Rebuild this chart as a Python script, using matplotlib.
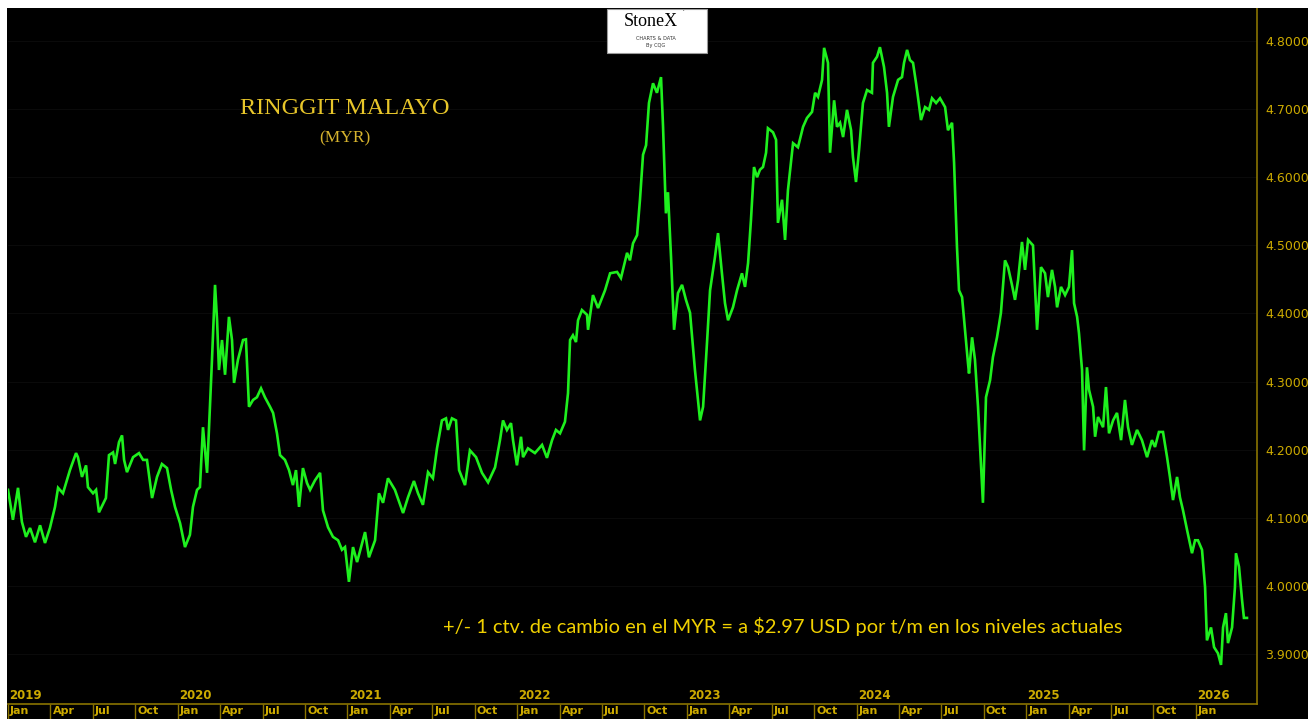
import matplotlib.pyplot as plt
from matplotlib.patches import Rectangle

# fecha (años decimales) y cotización USD/MYR
t = [
    2019.000, 2019.029, 2019.059, 2019.082, 2019.106, 2019.130, 2019.159, 2019.189, 2019.218, 2019.247,
    2019.277, 2019.295, 2019.324, 2019.365, 2019.401, 2019.412, 2019.436, 2019.460, 2019.471, 2019.501,
    2019.519, 2019.536, 2019.577, 2019.595, 2019.619, 2019.631, 2019.654, 2019.672, 2019.684, 2019.701,
    2019.737, 2019.772, 2019.796, 2019.819, 2019.849, 2019.878, 2019.907, 2019.937, 2019.961, 2019.984,
    2020.014, 2020.043, 2020.072, 2020.090, 2020.114, 2020.131, 2020.149, 2020.173, 2020.202, 2020.220,
    2020.232, 2020.243, 2020.261, 2020.279, 2020.302, 2020.320, 2020.332, 2020.355, 2020.385, 2020.402,
    2020.420, 2020.444, 2020.467, 2020.491, 2020.514, 2020.544, 2020.562, 2020.585, 2020.603, 2020.632,
    2020.656, 2020.679, 2020.697, 2020.715, 2020.738, 2020.762, 2020.780, 2020.809, 2020.839, 2020.856,
    2020.886, 2020.915, 2020.945, 2020.968, 2020.986, 2021.009, 2021.033, 2021.057, 2021.104, 2021.127,
    2021.163, 2021.186, 2021.210, 2021.239, 2021.280, 2021.328, 2021.357, 2021.392, 2021.416, 2021.445,
    2021.475, 2021.504, 2021.528, 2021.557, 2021.581, 2021.593, 2021.616, 2021.640, 2021.658, 2021.693,
    2021.722, 2021.758, 2021.793, 2021.829, 2021.870, 2021.899, 2021.917, 2021.940, 2021.964, 2021.976,
    2021.999, 2022.023, 2022.035, 2022.064, 2022.105, 2022.147, 2022.176, 2022.206, 2022.229, 2022.253,
    2022.282, 2022.300, 2022.312, 2022.329, 2022.347, 2022.359, 2022.382, 2022.412, 2022.418, 2022.447,
    2022.477, 2022.518, 2022.548, 2022.589, 2022.612, 2022.648, 2022.665, 2022.683, 2022.707, 2022.724,
    2022.742, 2022.760, 2022.777, 2022.801, 2022.824, 2022.848, 2022.860, 2022.877, 2022.889, 2022.907,
    2022.925, 2022.948, 2022.972, 2022.995, 2023.019, 2023.048, 2023.078, 2023.096, 2023.119, 2023.137,
    2023.166, 2023.184, 2023.207, 2023.225, 2023.243, 2023.272, 2023.296, 2023.325, 2023.343, 2023.361,
    2023.378, 2023.396, 2023.414, 2023.431, 2023.449, 2023.467, 2023.478, 2023.508, 2023.526, 2023.537,
    2023.561, 2023.579, 2023.596, 2023.626, 2023.655, 2023.685, 2023.708, 2023.738, 2023.756, 2023.773,
    2023.797, 2023.809, 2023.832, 2023.844, 2023.868, 2023.885, 2023.903, 2023.921, 2023.944, 2023.968,
    2023.979, 2023.997, 2024.015, 2024.038, 2024.062, 2024.091, 2024.097, 2024.121, 2024.138, 2024.162,
    2024.180, 2024.191, 2024.215, 2024.245, 2024.268, 2024.280, 2024.298, 2024.315, 2024.333, 2024.351,
    2024.362, 2024.380, 2024.404, 2024.427, 2024.445, 2024.469, 2024.492, 2024.522, 2024.539, 2024.563,
    2024.575, 2024.592, 2024.604, 2024.622, 2024.639, 2024.657, 2024.663, 2024.681, 2024.698, 2024.716,
    2024.740, 2024.745, 2024.763, 2024.787, 2024.804, 2024.828, 2024.851, 2024.875, 2024.893, 2024.916,
    2024.934, 2024.952, 2024.975, 2024.993, 2025.011, 2025.040, 2025.064, 2025.087, 2025.111, 2025.128,
    2025.152, 2025.170, 2025.182, 2025.205, 2025.229, 2025.252, 2025.270, 2025.282, 2025.300, 2025.311,
    2025.329, 2025.341, 2025.358, 2025.370, 2025.394, 2025.406, 2025.423, 2025.453, 2025.470, 2025.488,
    2025.512, 2025.535, 2025.559, 2025.582, 2025.600, 2025.623, 2025.653, 2025.682, 2025.712, 2025.741,
    2025.759, 2025.782, 2025.806, 2025.830, 2025.847, 2025.865, 2025.889, 2025.906, 2025.924, 2025.948,
    2025.977, 2025.995, 2026.012, 2026.036, 2026.054, 2026.065, 2026.089, 2026.107, 2026.130, 2026.148,
    2026.160, 2026.177, 2026.189, 2026.213, 2026.230, 2026.236, 2026.254, 2026.272, 2026.283, 2026.301,
]
myr = [
    4.141, 4.097, 4.144, 4.094, 4.072, 4.085, 4.064, 4.089, 4.063, 4.085,
    4.116, 4.144, 4.136, 4.170, 4.195, 4.189, 4.160, 4.177, 4.145, 4.136,
    4.141, 4.108, 4.129, 4.192, 4.196, 4.179, 4.211, 4.221, 4.185, 4.167,
    4.189, 4.195, 4.185, 4.185, 4.129, 4.160, 4.179, 4.173, 4.141, 4.116,
    4.092, 4.057, 4.075, 4.116, 4.141, 4.145, 4.233, 4.166, 4.332, 4.442,
    4.390, 4.317, 4.361, 4.310, 4.395, 4.361, 4.298, 4.332, 4.361, 4.362,
    4.263, 4.273, 4.277, 4.290, 4.277, 4.263, 4.254, 4.224, 4.192, 4.185,
    4.170, 4.148, 4.170, 4.116, 4.173, 4.151, 4.141, 4.155, 4.166, 4.111,
    4.086, 4.072, 4.067, 4.053, 4.057, 4.006, 4.057, 4.035, 4.079, 4.042,
    4.067, 4.136, 4.122, 4.158, 4.141, 4.107, 4.130, 4.154, 4.136, 4.119,
    4.167, 4.158, 4.202, 4.243, 4.246, 4.229, 4.246, 4.243, 4.170, 4.148,
    4.199, 4.189, 4.166, 4.152, 4.174, 4.214, 4.243, 4.229, 4.239, 4.214,
    4.177, 4.219, 4.189, 4.202, 4.195, 4.207, 4.188, 4.214, 4.229, 4.224,
    4.241, 4.283, 4.361, 4.368, 4.358, 4.390, 4.405, 4.398, 4.376, 4.427,
    4.408, 4.434, 4.459, 4.461, 4.452, 4.489, 4.478, 4.503, 4.515, 4.567,
    4.633, 4.647, 4.709, 4.738, 4.724, 4.747, 4.674, 4.547, 4.578, 4.483,
    4.376, 4.430, 4.442, 4.420, 4.401, 4.317, 4.243, 4.263, 4.357, 4.434,
    4.483, 4.518, 4.459, 4.415, 4.390, 4.409, 4.434, 4.459, 4.439, 4.474,
    4.537, 4.615, 4.600, 4.611, 4.615, 4.636, 4.672, 4.666, 4.655, 4.533,
    4.567, 4.508, 4.581, 4.650, 4.644, 4.674, 4.687, 4.696, 4.724, 4.718,
    4.743, 4.790, 4.768, 4.636, 4.713, 4.674, 4.680, 4.659, 4.699, 4.669,
    4.630, 4.593, 4.640, 4.709, 4.728, 4.724, 4.768, 4.777, 4.791, 4.762,
    4.724, 4.674, 4.718, 4.743, 4.747, 4.768, 4.787, 4.772, 4.768, 4.738,
    4.718, 4.684, 4.703, 4.699, 4.716, 4.709, 4.716, 4.703, 4.669, 4.680,
    4.621, 4.498, 4.434, 4.424, 4.376, 4.327, 4.312, 4.365, 4.332, 4.263,
    4.145, 4.122, 4.277, 4.302, 4.336, 4.365, 4.401, 4.478, 4.468, 4.442,
    4.420, 4.449, 4.505, 4.464, 4.508, 4.500, 4.376, 4.468, 4.459, 4.424,
    4.464, 4.439, 4.409, 4.439, 4.427, 4.439, 4.493, 4.415, 4.395, 4.371,
    4.317, 4.199, 4.321, 4.288, 4.263, 4.219, 4.248, 4.233, 4.292, 4.224,
    4.243, 4.254, 4.214, 4.273, 4.233, 4.207, 4.229, 4.214, 4.189, 4.214,
    4.204, 4.226, 4.226, 4.189, 4.160, 4.126, 4.160, 4.130, 4.111, 4.082,
    4.048, 4.067, 4.067, 4.053, 3.998, 3.920, 3.939, 3.910, 3.901, 3.884,
    3.939, 3.960, 3.916, 3.939, 3.998, 4.048, 4.028, 3.979, 3.953, 3.953,
]

years = [2019, 2020, 2021, 2022, 2023, 2024, 2025, 2026]
quarter_names = ["Jan", "Apr", "Jul", "Oct"]
y_ticks = [3.9, 4.0, 4.1, 4.2, 4.3, 4.4, 4.5, 4.6, 4.7, 4.8]

title = "RINGGIT MALAYO"
subtitle = "(MYR)"
note = "+/- 1 ctv. de cambio en el MYR = a $2.97 USD por t/m en los niveles actuales"

GREEN = "#1EF01E"
OLIVE = "#8A7400"
AXIS_TXT = "#CCAA00"

W, H = 1308, 719
fig = plt.figure(figsize=(W / 100, H / 100), dpi=100, facecolor="black")

# white strips at top and left like the screenshot
fig.add_artist(Rectangle((0, 1 - 8 / H), 1, 8 / H, transform=fig.transFigure,
                         facecolor="white", edgecolor="none"))
fig.add_artist(Rectangle((0, 0), 7 / W, 1, transform=fig.transFigure,
                         facecolor="white", edgecolor="none"))

ax = fig.add_axes([8 / W, 15 / H, 1249 / W, 696 / H])
ax.set_facecolor("black")
ax.plot(t, myr, color=GREEN, lw=1.9, solid_joinstyle="miter")
ax.set_xlim(2019.0, 2026.36)
ax.set_ylim(3.8266, 4.8485)

for side in ["top", "left"]:
    ax.spines[side].set_visible(False)
for side in ["right", "bottom"]:
    ax.spines[side].set_color(OLIVE)
    ax.spines[side].set_linewidth(1.2)

ax.yaxis.tick_right()
ax.set_yticks(y_ticks)
ax.set_yticklabels([f"{v:.4f}" for v in y_ticks])
ax.tick_params(axis="y", length=0, pad=6, labelsize=9, labelcolor=AXIS_TXT)
ax.grid(axis="y", color="#0a0a0a", lw=0.8)

quarters = []
qlabels = []
for yr in years:
    for i, name in enumerate(quarter_names):
        q = yr + i * 3 / 12
        if q < 2026.2:
            quarters.append(q)
            qlabels.append(name)
ax.set_xticks(quarters)
ax.set_xticklabels([])
ax.tick_params(axis="x", direction="out", length=11, width=1, color=OLIVE)

for q, name in zip(quarters, qlabels):
    ax.annotate(name, xy=(q, 0), xycoords=("data", "axes fraction"),
                xytext=(1.5, -1.2), textcoords="offset points", ha="left", va="top",
                fontsize=8, fontweight="bold", color=AXIS_TXT, annotation_clip=False)
for yr in years:
    ax.annotate(str(yr), xy=(yr, 0), xycoords=("data", "axes fraction"),
                xytext=(1, 1.2), textcoords="offset points", ha="left", va="bottom",
                fontsize=8.5, fontweight="bold", color=AXIS_TXT, annotation_clip=False)

fig.text(345 / W, 1 - 109 / H, title, ha="center", va="center",
         family="Liberation Serif", fontsize=17.5, color="#E8C62A")
fig.text(345 / W, 1 - 138 / H, subtitle, ha="center", va="center",
         family="Liberation Serif", fontsize=12.5, color="#D6B32E")
fig.text(783 / W, 1 - 626 / H, note, ha="center", va="center",
         family="Lato", fontsize=14.4, color="#F0D000")

# StoneX logo box
fig.add_artist(Rectangle((607 / W, 1 - 53 / H), 100 / W, 44 / H, transform=fig.transFigure,
                         facecolor="white", edgecolor="#9a9a9a", lw=0.8))
fig.text(651 / W, 1 - 21 / H, "StoneX", ha="center", va="center",
         family="Liberation Serif", fontsize=13, color="black")
fig.text(683 / W, 1 - 14 / H, "\u02d9", ha="center", va="center", fontsize=5, color="black")
fig.text(656 / W, 1 - 38 / H, "CHARTS & DATA", ha="center", va="center",
         family="DejaVu Sans", fontsize=3.6, color="#333333")
fig.text(656 / W, 1 - 46 / H, "By CQG", ha="center", va="center",
         family="DejaVu Sans", fontsize=3.6, color="#333333")

fig.savefig("out.png", dpi=100, facecolor="black")
